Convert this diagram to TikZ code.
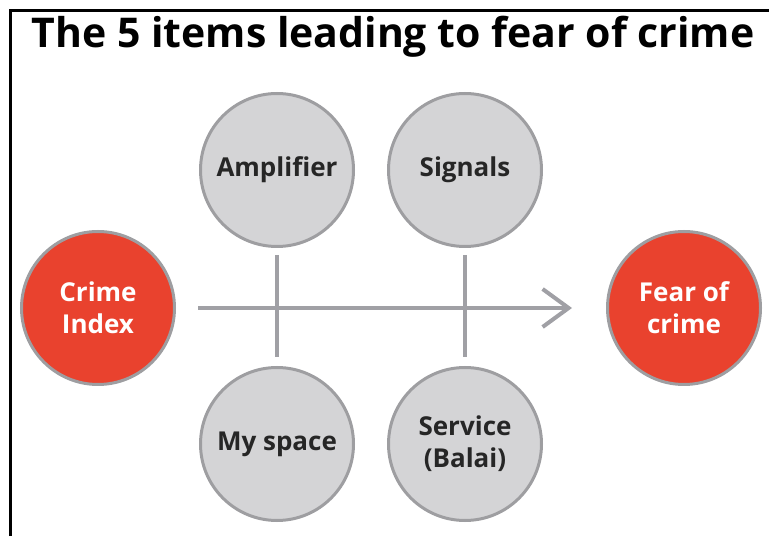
\documentclass[tikz,border=0pt]{standalone}
\usepackage{fontspec}
\setmainfont{Open Sans}
\usepackage{tikz}
\usetikzlibrary{arrows.meta,positioning}

\definecolor{crimered}{RGB}{233,66,46}
\definecolor{itemgray}{RGB}{212,212,214}
\definecolor{rimgray}{RGB}{158,158,161}
\definecolor{linegray}{RGB}{160,160,165}

\tikzset{
	item/.style={circle, draw=rimgray, line width=3pt, fill=itemgray, minimum size=153pt,
		inner sep=0pt, align=center, text=black!85, font=\fontsize{26}{32}\selectfont\bfseries},
	outcome/.style={item, fill=crimered, text=white},
	link/.style={draw=linegray, line width=4pt},
}

\begin{document}
\begin{tikzpicture}[x=1pt, y=1pt, node distance=188pt]
	\useasboundingbox (0,0) rectangle (769,536);
	\draw [line width=3pt] (10,0) -- (10,525) -- (769,525);
	\node (title) at (393,499) {\fontsize{41}{46}\selectfont\bfseries The 5 items leading to fear of crime};

	\node[outcome] (crime) at (98,228) {Crime\\Index};
	\node[item] (amp) at (277,366) {Amplifier};
	\node[item] (sig) [right of=amp] {Signals};
	\node[item] (my) [below of=amp, node distance=274pt] {My space};
	\node[item] (serv) [right of=my] {Service\\(Balai)};
	\node[outcome] (fear) at (684,228) {Fear of\\crime};

	\draw [link, arrows={-Straight Barb[length=26pt,width=38pt]}, shorten <=22pt, shorten >=34pt] (crime) -- (fear);
	\draw [link, shorten <=7pt, shorten >=9pt] (amp) -- (my);
	\draw [link, shorten <=7pt, shorten >=9pt] (sig) -- (serv);
\end{tikzpicture}
\end{document}
